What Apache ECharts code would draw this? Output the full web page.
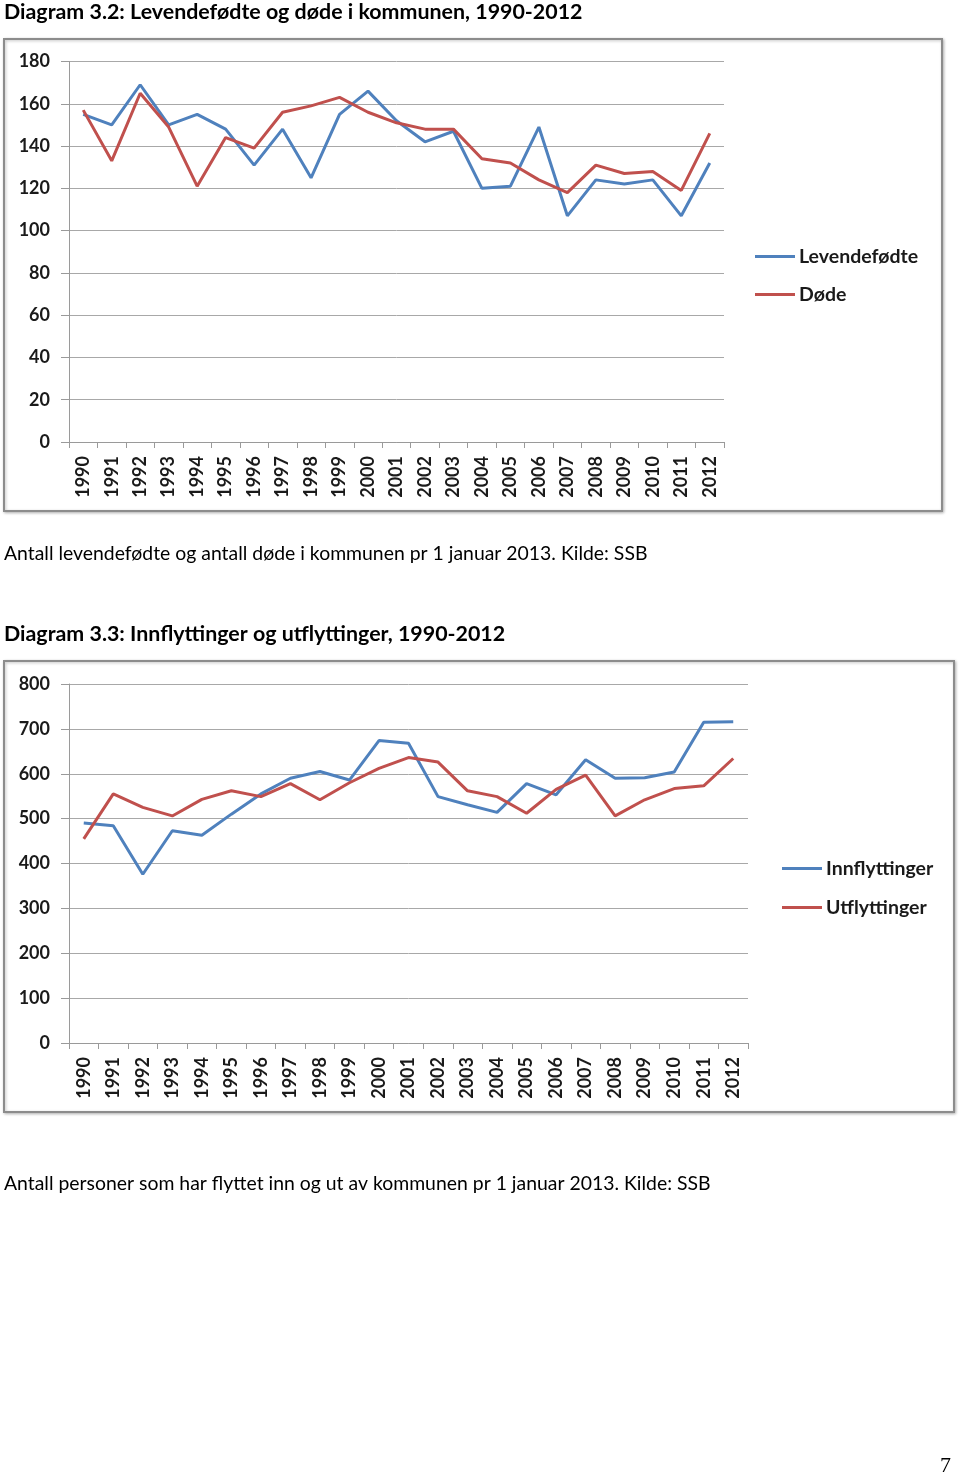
<!DOCTYPE html>
<html>
<head>
<meta charset="utf-8">
<script src="https://cdn.jsdelivr.net/npm/echarts@6/dist/echarts.min.js"></script>
<style>
html,body{margin:0;padding:0;background:#fff;}
#c{width:960px;height:1478px;}
</style>
</head>
<body>
<div id="c"></div>
<script>
const years = ['1990','1991','1992','1993','1994','1995','1996','1997','1998','1999','2000','2001','2002','2003','2004','2005','2006','2007','2008','2009','2010','2011','2012'];
const levendefodte = [155,150,169,150,155,148,131,148,125,155,166,152,142,147,120,121,149,107,124,122,124,107,132];
const dode = [157,133,165,149,121,144,139,156,159,163,156,151,148,148,134,132,124,118,131,127,128,119,146];
const innflyttinger = [490,484,376,473,463,510,555,590,605,586,674,668,549,531,514,578,553,631,590,591,604,715,716];
const utflyttinger = [455,555,525,506,543,562,549,578,542,580,612,636,626,562,549,512,565,597,506,542,567,573,634];

const title1 = 'Diagram 3.2: Levendefødte og døde i kommunen, 1990-2012';
const caption1 = 'Antall levendefødte og antall døde i kommunen pr 1 januar 2013. Kilde: SSB';
const title2 = 'Diagram 3.3: Innflyttinger og utflyttinger, 1990-2012';
const caption2 = 'Antall personer som har flyttet inn og ut av kommunen pr 1 januar 2013. Kilde: SSB';
const pageNo = '7';

const BLUE = '#4F81BD', RED = '#C0504D';
const FONT = 'Lato, "Open Sans", sans-serif';

const chart = echarts.init(document.getElementById('c'), null, {renderer:'canvas'});

function xAx(gi){
  return {
    type:'category', gridIndex:gi, data:years, boundaryGap:true,
    axisLine:{show:true, lineStyle:{color:'#9a9a9a', width:1}},
    axisTick:{show:true, length:6, lineStyle:{color:'#9a9a9a'}},
    axisLabel:{rotate:90, margin:14, fontFamily:FONT, fontWeight:'bold', fontSize:18, color:'#1a1a1a', interval:0}
  };
}
function yAx(gi, max, interval){
  return {
    type:'value', gridIndex:gi, min:0, max:max, interval:interval,
    axisLine:{show:true, lineStyle:{color:'#9a9a9a', width:1}},
    axisTick:{show:true, length:8, lineStyle:{color:'#9a9a9a'}},
    splitLine:{show:true, lineStyle:{color:'#a8a8a8', width:1}},
    axisLabel:{margin:19, fontFamily:FONT, fontWeight:'bold', fontSize:18, color:'#1a1a1a'}
  };
}
function ser(name, data, color, gi){
  return {
    name:name, type:'line', data:data, xAxisIndex:gi, yAxisIndex:gi,
    symbol:'none', smooth:false, color:color,
    lineStyle:{color:color, width:3}
  };
}

function txt(text, left, top, font){
  return {type:'text', left:left, top:top, style:{text:text, font:font, fill:'#000'}};
}

chart.setOption({
  animation:false,
  backgroundColor:'#fff',
  grid:[
    {left:69, top:61.5, width:655, height:380.5},
    {left:69, top:684, width:679, height:359}
  ],
  xAxis:[xAx(0), xAx(1)],
  yAxis:[yAx(0,180,20), yAx(1,800,100)],
  legend:[
    {orient:'vertical', left:755, top:246.5, padding:0, itemWidth:40, itemHeight:3, itemGap:18, icon:'rect',
     data:['Levendefødte','Døde'],
     textStyle:{fontFamily:FONT, fontWeight:'bold', fontSize:19.5, color:'#1a1a1a', lineHeight:19, padding:[0,0,0,-1]}},
    {orient:'vertical', left:782, top:858.5, padding:0, itemWidth:40, itemHeight:3, itemGap:19, icon:'rect',
     data:['Innflyttinger','Utflyttinger'],
     textStyle:{fontFamily:FONT, fontWeight:'bold', fontSize:19.5, color:'#1a1a1a', lineHeight:19, padding:[0,0,0,-1]}}
  ],
  series:[
    ser('Levendefødte', levendefodte, BLUE, 0),
    ser('Døde', dode, RED, 0),
    ser('Innflyttinger', innflyttinger, BLUE, 1),
    ser('Utflyttinger', utflyttinger, RED, 1)
  ],
  graphic:[
    {type:'rect', z:-10, shape:{x:4, y:39, width:938, height:472},
     style:{fill:'#fff', stroke:'#8c8c8c', lineWidth:2, shadowBlur:3, shadowOffsetX:1, shadowOffsetY:1, shadowColor:'rgba(0,0,0,0.25)'}},
    {type:'rect', z:-10, shape:{x:4, y:661, width:950, height:451},
     style:{fill:'#fff', stroke:'#8c8c8c', lineWidth:2, shadowBlur:3, shadowOffsetX:1, shadowOffsetY:1, shadowColor:'rgba(0,0,0,0.25)'}},
    txt(title1, 4, 2, 'bold 21.4px ' + FONT),
    txt(caption1, 4, 544, '19.4px ' + FONT),
    txt(title2, 4, 624, 'bold 21.4px ' + FONT),
    txt(caption2, 4, 1174, '19.4px ' + FONT),
    txt(pageNo, 940, 1455, '22px "Liberation Serif", serif')
  ]
});
</script>
</body>
</html>
